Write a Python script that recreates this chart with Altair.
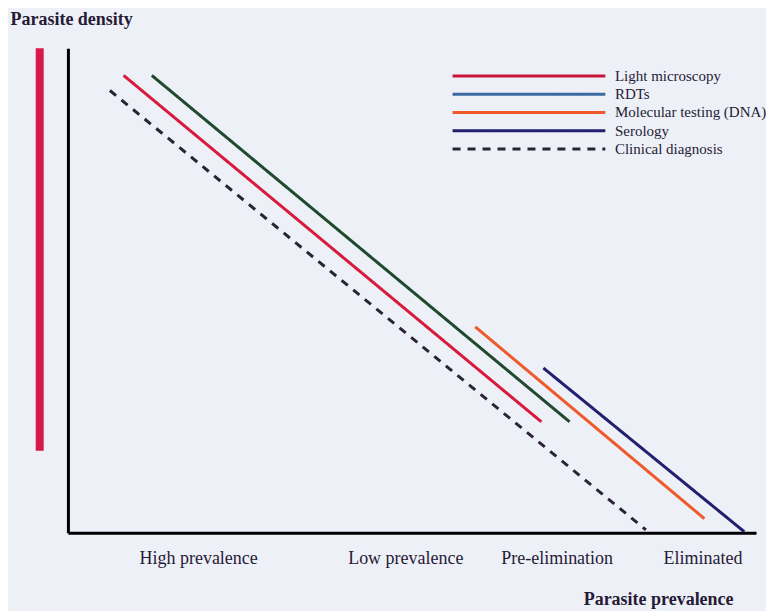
import altair as alt
import pandas as pd

# ---- data ----
series = ["Light microscopy", "RDTs", "Molecular testing (DNA)", "Serology", "Clinical diagnosis"]
x_start = [8.1, 12.2, 59.2, 69.1, 6.1]
y_start = [94.4, 94.4, 42.5, 34.0, 91.3]
x_end = [68.8, 72.9, 92.5, 98.3, 84.0]
y_end = [22.9, 22.9, 2.9, 0.2, 0.6]
line_colors = ["#d81b3c", "#1f4a2e", "#ee5a2c", "#20206e", "#2b2238"]
legend_colors = ["#c8143a", "#3b6aa0", "#ee5a2c", "#20206e", "#2b2238"]
dash_patterns = [[1, 0], [1, 0], [1, 0], [1, 0], [8, 7]]

stages = ["High prevalence", "Low prevalence", "Pre-elimination", "Eliminated"]
stage_x = [19.0, 49.1, 71.1, 92.3]

density_bar_x = [-4.1]
density_bar_top = [100.0]
density_bar_bottom = [16.9]

# legend layout (in data units)
legend_x0, legend_x1, legend_text_x = 55.9, 78.1, 79.5
legend_top, legend_step = 94.3, 3.77

FONT = "Liberation Serif"
TEXT_COLOR = "#261a36"

lines_df = pd.DataFrame({"series": series, "x": x_start, "y": y_start, "x2": x_end, "y2": y_end})
legend_df = pd.DataFrame({
    "lseries": series,
    "x": [legend_x0] * len(series),
    "x2": [legend_x1] * len(series),
    "tx": [legend_text_x] * len(series),
    "y": [legend_top - i * legend_step for i in range(len(series))],
})
stage_df = pd.DataFrame({"stage": stages, "x": stage_x, "y": [-5.4] * len(stages)})
bar_df = pd.DataFrame({"x": density_bar_x, "y": density_bar_top, "y2": density_bar_bottom})

xscale = alt.Scale(domain=[0, 100], nice=False, zero=False)
yscale = alt.Scale(domain=[0, 100], nice=False, zero=False)

x_axis = alt.Axis(
    domainColor="black", domainWidth=3, ticks=False, labels=False, grid=False,
    title="Parasite prevalence", titleFont=FONT, titleFontSize=18, titleFontWeight="bold",
    titleColor=TEXT_COLOR, titleX=666, titleY=67, titleAlign="right", titleBaseline="middle",
)
y_axis = alt.Axis(
    domainColor="black", domainWidth=3, ticks=False, labels=False, grid=False,
    title="Parasite density", titleFont=FONT, titleFontSize=18, titleFontWeight="bold",
    titleColor=TEXT_COLOR, titleAngle=0, titleX=-58, titleY=-29, titleAlign="left",
    titleBaseline="middle",
)

dash = alt.StrokeDash("series:N", scale=alt.Scale(domain=series, range=dash_patterns), legend=None)
ldash = alt.StrokeDash("lseries:N", scale=alt.Scale(domain=series, range=dash_patterns), legend=None)

lines = alt.Chart(lines_df).mark_rule(strokeWidth=3).encode(
    x=alt.X("x:Q", scale=xscale, axis=x_axis),
    y=alt.Y("y:Q", scale=yscale, axis=y_axis),
    x2="x2:Q", y2="y2:Q",
    color=alt.Color("series:N", scale=alt.Scale(domain=series, range=line_colors), legend=None),
    strokeDash=dash,
)

bar = alt.Chart(bar_df).mark_rule(strokeWidth=8, color="#d6184a").encode(
    x=alt.X("x:Q", scale=xscale, axis=x_axis),
    y=alt.Y("y:Q", scale=yscale, axis=y_axis),
    y2="y2:Q",
)

legend_lines = alt.Chart(legend_df).mark_rule(strokeWidth=3).encode(
    x=alt.X("x:Q", scale=xscale, axis=x_axis),
    x2="x2:Q",
    y=alt.Y("y:Q", scale=yscale, axis=y_axis),
    stroke=alt.Stroke("lseries:N", scale=alt.Scale(domain=series, range=legend_colors), legend=None),
    strokeDash=ldash,
)

legend_text = alt.Chart(legend_df).mark_text(
    font=FONT, fontSize=15, align="left", baseline="middle", color=TEXT_COLOR
).encode(
    x=alt.X("tx:Q", scale=xscale, axis=x_axis),
    y=alt.Y("y:Q", scale=yscale, axis=y_axis),
    text="lseries:N",
)

stage_text = alt.Chart(stage_df).mark_text(
    font=FONT, fontSize=18, align="center", baseline="middle", color=TEXT_COLOR
).encode(
    x=alt.X("x:Q", scale=xscale, axis=x_axis),
    y=alt.Y("y:Q", scale=yscale, axis=y_axis),
    text="stage:N",
)

chart = alt.layer(lines, bar, legend_lines, legend_text, stage_text).resolve_scale(
    color="independent", stroke="independent", strokeDash="independent"
).properties(
    width=689, height=485,
    padding={"left": 60, "top": 40, "right": 10, "bottom": 78},
    autosize=alt.AutoSizeParams(type="none"),
    background="#eef0f7",
).configure_view(stroke=None)

chart.save("out.html", embed_options={"renderer": "svg", "actions": False})
